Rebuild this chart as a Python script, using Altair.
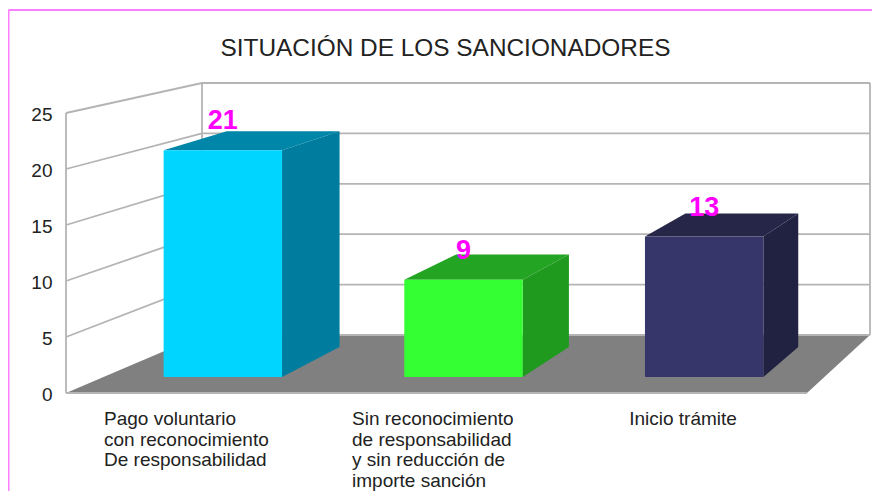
import altair as alt
import pandas as pd

TITLE = "SITUACIÓN DE LOS SANCIONADORES"
CATEGORIES = [
    "Pago voluntario\ncon reconocimiento\nDe responsabilidad",
    "Sin reconocimiento\nde responsabilidad\ny sin reducción de\n\u00a0importe sanción",
    "Inicio trámite",
]
VALUES = [21, 9, 13]
TICKS = [0, 5, 10, 15, 20, 25]
FRONT_COLORS = ["#00d5ff", "#33ff33", "#36366b"]
SIDE_COLORS = ["#007d9e", "#1f9a1f", "#212141"]
TOP_COLORS = ["#0086a8", "#23a523", "#262649"]
LABEL_FRACTIONS = [0.0513, 0.386, 0.76]

FONT = "Liberation Sans"
W, H = 804, 310
UNIT = 11.2            # px per value unit on the front plane (axis scale)
TOP_VALUE = H / UNIT


# Projection of the 3D box: (fraction across, depth plane, value) -> axis units
def wall_x(f, d):
    return (1 - d) * (0 + 741 * f) + d * (136 + 668 * f)


def wall_y(v, d):
    return (1 - d) * v + d * (58 + 10.08 * v) / UNIT


def bar_front(f, v):
    return 36.5 + 722 * f, (16 + 10.8 * v) / UNIT


def bar_back(f, v):
    return 102.5 + 688 * f, (46 + 10.27 * v) / UNIT


x_scale = alt.Scale(domain=[0, W], range=[0, W], nice=False, zero=False)
y_scale = alt.Scale(domain=[0, TOP_VALUE], nice=False, zero=False)
X = alt.X("x:Q", scale=x_scale, axis=None)
Y = alt.Y(
    "y:Q",
    scale=y_scale,
    axis=alt.Axis(
        values=TICKS, domain=False, ticks=False, grid=False, title=None,
        labelPadding=14, labelFontSize=19, labelFont=FONT, labelColor="#222222",
        labelOffset=1,
    ),
)

# frame
frame_left = alt.Chart(pd.DataFrame({"a": [0]})).mark_rule(color="#ff7dff", strokeWidth=2).encode(
    x=alt.value(-57.5), y=alt.value(-73), y2=alt.value(H + 98)
)
frame_top = alt.Chart(pd.DataFrame({"a": [0]})).mark_rule(color="#ff7dff", strokeWidth=2).encode(
    y=alt.value(-73), x=alt.value(-57.5), x2=alt.value(W + 2)
)
title = alt.Chart(pd.DataFrame({"t": [TITLE]})).mark_text(
    font=FONT, fontSize=24.4, color="#222222", align="center", baseline="alphabetic"
).encode(x=alt.value(379.5), y=alt.value(-27.5), text="t:N")

# floor
floor = alt.Chart(pd.DataFrame({
    "y": [wall_y(0, 0), wall_y(0, 1)],
    "x": [wall_x(0, 0), wall_x(0, 1)],
    "x2": [wall_x(1, 0), wall_x(1, 1)],
})).mark_area(orient="horizontal", color="#808080").encode(x=X, x2="x2:Q", y=Y)

# wall lines
rows = []
g = 0


def add_line(points):
    global g
    for i, (px, py) in enumerate(points):
        rows.append({"x": px, "y": py, "g": g, "i": i})
    g += 1


for t in TICKS:
    add_line([(wall_x(0, 1), wall_y(t, 1)), (wall_x(1, 1), wall_y(t, 1))])
    if t > 0:
        add_line([(wall_x(0, 0), wall_y(t, 0)), (wall_x(0, 1), wall_y(t, 1))])
add_line([(wall_x(0, 0), wall_y(0, 0)), (wall_x(0, 0), wall_y(25, 0))])
add_line([(wall_x(0, 1), wall_y(0, 1)), (wall_x(0, 1), wall_y(25, 1))])
add_line([(wall_x(1, 1), wall_y(0, 1)), (wall_x(1, 1), wall_y(25, 1))])
add_line([(wall_x(0, 0), wall_y(0, 0)), (wall_x(1, 0), wall_y(0, 0))])

lines = alt.Chart(pd.DataFrame(rows)).mark_line(color="#b4b4b4", strokeWidth=1.8).encode(
    x=X, y=Y, detail="g:N", order="i:Q"
)

# bars
HALF = 0.082
front_rows, side_rows, top_rows, label_rows = [], [], [], []
for i, v in enumerate(VALUES):
    c = (i + 0.5) / len(VALUES)
    l, r = c - HALF, c + HALF
    fl, fb = bar_front(l, 0)
    fr, ft = bar_front(r, v)
    bl, bb = bar_back(l, 0)
    br, bt = bar_back(r, v)
    front_rows.append({"x": fl, "x2": fr, "y": fb, "y2": ft, "c": FRONT_COLORS[i]})
    side_rows += [
        {"x": fr, "y": fb, "y2": ft, "c": SIDE_COLORS[i]},
        {"x": br, "y": bb, "y2": bt, "c": SIDE_COLORS[i]},
    ]
    top_rows += [
        {"y": ft, "x": fl, "x2": fr, "c": TOP_COLORS[i]},
        {"y": bt, "x": bl, "x2": br, "c": TOP_COLORS[i]},
    ]
    label_rows.append({"x": bar_front(c, 0)[0], "y": ft, "t": str(v)})

top = alt.Chart(pd.DataFrame(top_rows)).mark_area(orient="horizontal").encode(
    x=X, x2="x2:Q", y=Y, color=alt.Color("c:N", scale=None)
)
side = alt.Chart(pd.DataFrame(side_rows)).mark_area().encode(
    x=X, y=Y, y2="y2:Q", color=alt.Color("c:N", scale=None)
)
front = alt.Chart(pd.DataFrame(front_rows)).mark_rect(cornerRadius=1).encode(
    x=X, x2="x2:Q", y=Y, y2="y2:Q", color=alt.Color("c:N", scale=None)
)
labels = alt.Chart(pd.DataFrame(label_rows)).mark_text(
    color="#ff00ff", font=FONT, fontSize=27, fontWeight="bold", baseline="middle", dy=-29
).encode(x=X, y=Y, text="t:N")

cats = alt.Chart(pd.DataFrame({
    "x": [wall_x(f, 0) for f in LABEL_FRACTIONS],
    "y": [0, 0, 0],
    "t": CATEGORIES,
})).mark_text(
    align="left", baseline="top", lineBreak="\n", lineHeight=20.7, dy=17,
    font=FONT, fontSize=19, color="#222222",
).encode(x=X, y=Y, text="t:N")

chart = alt.layer(
    frame_left, frame_top, title, floor, lines, top, side, front, labels, cats
).properties(
    width=W,
    height=H,
    padding={"left": 58, "top": 75, "right": 2, "bottom": 98},
    autosize=alt.AutoSizeParams(type="none"),
).configure_view(stroke=None)

chart.save("out.html", embed_options={"renderer": "svg", "actions": False})
